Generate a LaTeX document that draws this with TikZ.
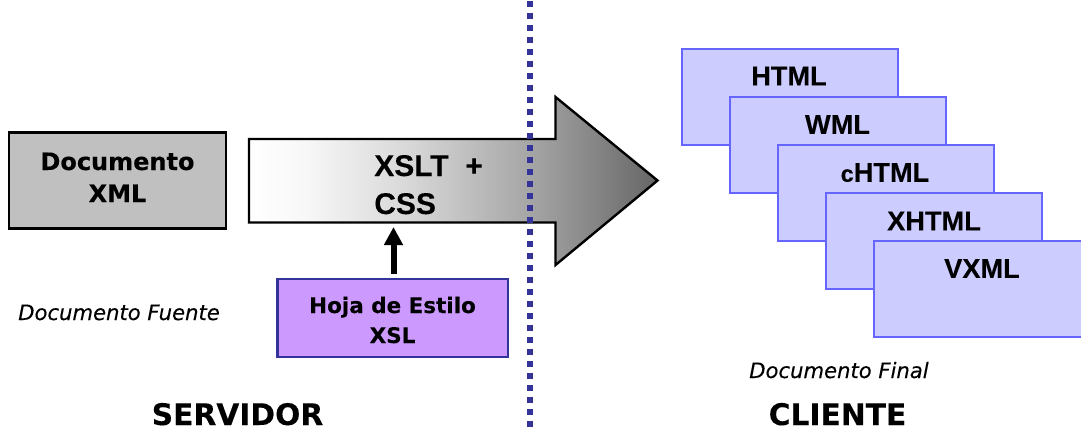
\documentclass[tikz,border=0pt]{standalone}
\usepackage{fontspec}
\setmainfont{DejaVu Sans}[ItalicFeatures={FakeBold=0.25},BoldFeatures={FakeBold=0.12}]
\newfontfamily\arialf{Liberation Sans}[BoldFeatures={FakeBold=0.15}]
\usetikzlibrary{arrows.meta}
\definecolor{grayfill}{HTML}{C0C0C0}
\definecolor{navyline}{HTML}{333399}
\definecolor{lilac}{HTML}{CC99FF}
\definecolor{stackfill}{HTML}{CCCCFF}
\definecolor{stackline}{HTML}{6666FF}
\pgfdeclarehorizontalshading{arrowgrad}{100bp}{
  color(0bp)=(white);
  color(25bp)=(white);
  color(32bp)=(white!97!black);
  color(45bp)=(white!84!black);
  color(60bp)=(white!64!black);
  color(75bp)=(white!40!black);
  color(100bp)=(white!40!black)}
\tikzset{
  px/.style={x=0.75pt,y=-0.75pt},
  stackbox/.style={draw=stackline,fill=stackfill,line width=1.6pt,minimum width=162pt,minimum height=72pt,inner sep=0pt,outer sep=0pt},
  stacktext/.style={font=\arialf\fontsize{20.4}{24}\selectfont\bfseries,inner sep=0pt},
  boldtext/.style={font=\fontsize{18}{24}\selectfont\bfseries,align=center,inner sep=0pt},
  smallbold/.style={font=\fontsize{16.1}{22.5}\selectfont\bfseries,align=center,inner sep=0pt},
  captext/.style={font=\fontsize{22.3}{26}\selectfont\bfseries,inner sep=0pt},
  notetext/.style={font=\fontsize{15.85}{19}\selectfont\itshape,inner sep=0pt},
}
\begin{document}
\begin{tikzpicture}[px]
\useasboundingbox (0,0) rectangle (1081,430);
\clip (0,0) rectangle (1081,430);
% source box
\node[draw=black,fill=grayfill,line width=1.8pt,minimum width=162.5pt,minimum height=72pt,inner sep=0pt] (src) at (117.5,180.5) {};
\node[boldtext,anchor=base] (srct) at (117.5,202) {Documento\\XML};
% big arrow
\path[draw=black,line width=1.8pt,line join=miter,shading=arrowgrad]
  (249,139) -- (555.5,139) -- (555.5,97) -- (657.5,180.5) -- (555.5,265) -- (555.5,222.5) -- (249,222.5) -- cycle;
\coordinate (arrowbase) at (393.5,227);
\node[anchor=base west,inner sep=0pt,align=left,font=\arialf\fontsize{22.5}{28.5}\selectfont\bfseries] (xslt) at (374,214) {XSLT\ \ +\\CSS};
% style sheet box
\node[draw=navyline,fill=lilac,line width=1.6pt,minimum width=173pt,minimum height=58.5pt,inner sep=0pt] (xsl) at (392.8,318) {};
\node[smallbold,anchor=base] (xslt2) at (392.5,343) {Hoja de Estilo\\XSL};
\draw[line width=4.5pt,-{Triangle[width=13.5pt,length=13.5pt]}] (xsl.north -| arrowbase) ++(0,-4) coordinate (shaftend) -- (arrowbase);
% divider
\coordinate (divtop) at (530,1);
\coordinate (divbot) at (530,430);
\draw[navyline,line width=4.5pt,dash pattern=on 4.5pt off 4.5pt] (divtop) -- (divbot);
% stack
\node[stackbox] (b1) at (790,97) {};
\node[stacktext] (t1) at (789,76) {HTML};
\node[stackbox] (b2) at (838,145) {};
\node[stacktext] (t2) at (837.5,124.5) {WML};
\node[stackbox] (b3) at (886,193) {};
\node[stacktext] (t3) at (885,172.5) {{\fontsize{17.5}{24}\selectfont c}HTML};
\node[stackbox] (b4) at (934,241) {};
\node[stacktext] (t4) at (934,221) {XHTML};
\node[stackbox] (b5) at (982,289) {};
\node[stacktext] (t5) at (982,268.5) {VXML};
% notes
\node[notetext,anchor=base west] (n1) at (18,320) {Documento Fuente};
\node[notetext,anchor=base west] (n2) at (749,378) {Documento Final};
\node[captext,anchor=base] (c1) at (237.5,425) {SERVIDOR};
\node[captext,anchor=base] (c2) at (837.5,425) {CLIENTE};
\end{tikzpicture}
\end{document}
